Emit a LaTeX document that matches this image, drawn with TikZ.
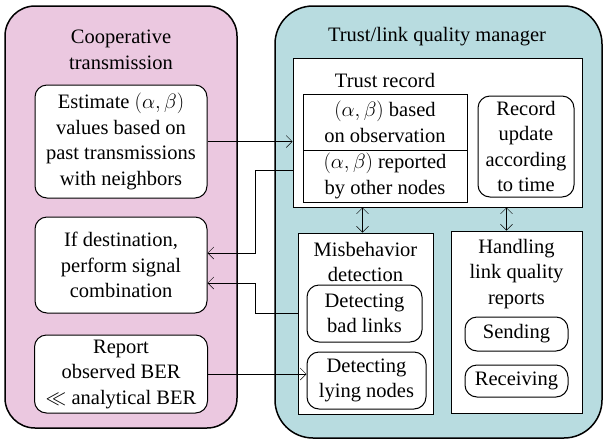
\documentclass[tikz,border=0pt]{standalone}
\usepackage{fontspec}
\setmainfont{Liberation Serif}
\usetikzlibrary{calc,arrows.meta}
\definecolor{coopfill}{RGB}{235,200,224}
\definecolor{mgrfill}{RGB}{184,220,224}
\tikzset{>={Straight Barb[length=6pt,width=12pt]}}
\tikzset{
  region/.style={draw,line width=1.5pt,rounded corners=#1},
  block/.style={draw,fill=white,line width=1pt,align=center,inner sep=0pt},
  rblock/.style={block,rounded corners=12pt},
  txt/.style={align=center,inner sep=0pt}
}
\newcommand*{\albe}{$(\alpha,\beta)$}

\begin{document}
\begin{tikzpicture}[x=1pt,y=-1pt,font=\fontsize{20.5}{25.5}\selectfont]
\useasboundingbox (0,0) rectangle (606,440);
% the two regions
\node[region=30pt,fill=coopfill,minimum width=232pt,minimum height=422pt] (coop) at (121,217) {};
\node[region=38pt,fill=mgrfill,minimum width=327pt,minimum height=432pt] (mgr) at (438.5,222) {};
\node[txt] (cooptitle) at (121,50) {Cooperative\\transmission};
\node[txt] (mgrtitle) at (437,37) {Trust/link quality manager};

% cooperative transmission side
\node[rblock,minimum width=172pt,minimum height=113pt] (est) at (121,141.5)
  {Estimate \albe\\values based on\\past transmissions\\with neighbors};
\node[rblock,minimum width=172pt,minimum height=96pt] (dest) at (121,265)
  {If destination,\\perform signal\\combination};
\node[rblock,minimum width=173pt,minimum height=78pt] (report) at (121,374)
  {Report\\observed BER\\$\ll$ analytical BER};

% trust record
\node[block,minimum width=289pt,minimum height=149pt] (trust) at (437.5,132.5) {};
\node[txt] (trustlbl) at (385,80) {Trust record};
\node[block,minimum width=164pt,minimum height=56pt] (obs) at (385,122)
  {\albe{} based\\on observation};
\node[block,minimum width=164pt,minimum height=52pt] (rep) at (385,176)
  {\albe{} reported\\by other nodes};
\node[rblock,minimum width=96pt,minimum height=101pt] (upd) at (526,146.5)
  {Record\\update\\according\\to time};

% misbehavior detection and reports
\node[block,minimum width=135pt,minimum height=181pt] (misb) at (365.5,323.5) {};
\node[txt] (misblbl) at (365.5,262) {Misbehavior\\detection};
\node[rblock,minimum width=115pt,minimum height=57pt] (bad) at (364.5,313.5) {Detecting\\bad links};
\node[rblock,minimum width=119pt,minimum height=57pt] (lying) at (366.5,380.5) {Detecting\\lying nodes};
\node[block,minimum width=131pt,minimum height=182pt] (handle) at (516.5,322) {};
\node[txt] (handlelbl) at (516.5,274) {Handling\\link quality\\reports};
\node[rblock,minimum width=103pt,minimum height=34pt] (send) at (516.5,334) {Sending};
\node[rblock,minimum width=103pt,minimum height=32pt] (recv) at (516.5,381) {Receiving};

% connectors
\coordinate (bendA) at (255,170);
\coordinate (bendB) at (255,313);
\draw[->] (est.east) -- (est.east -| trust.west);
\draw[->] (bendA -| trust.west) -- (bendA) |- ([yshift=12pt]dest.east);
\draw[->] (bendB -| misb.west) -- (bendB) |- ([yshift=-18pt]dest.east);
\draw[->] (report.east) -- (report.east -| lying.west);
\draw[<->] ([xshift=-3pt]misb.north) -- ([xshift=-3pt]misb.north |- trust.south);
\draw[<->] ([xshift=-10pt]handle.north) -- ([xshift=-10pt]handle.north |- trust.south);
\end{tikzpicture}
\end{document}
